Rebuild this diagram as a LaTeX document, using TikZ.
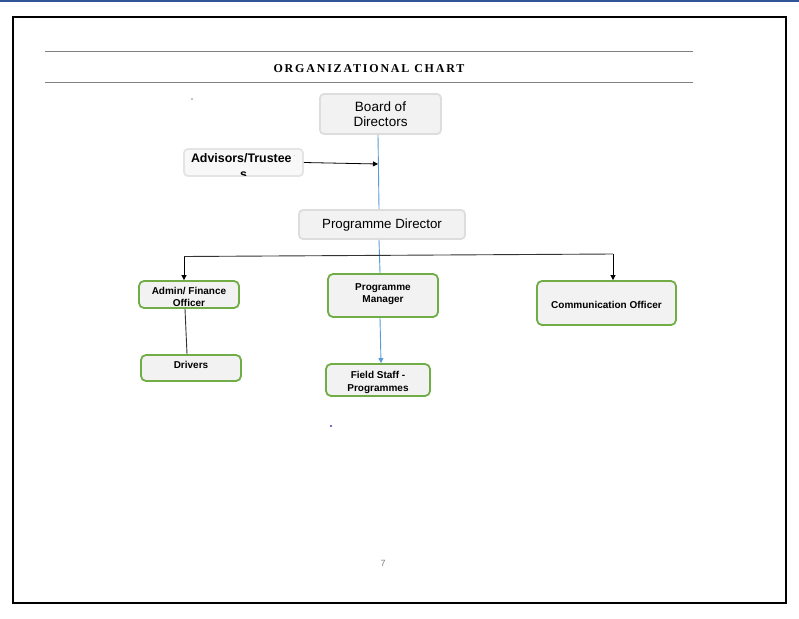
\documentclass[tikz,border=0pt]{standalone}
\usepackage{fontspec}
\setmainfont{Liberation Sans}
\newfontfamily\titlefont[LetterSpace=15]{Liberation Serif}
\usetikzlibrary{arrows.meta,calc}
\definecolor{topblue}{HTML}{2F5597}
\definecolor{boxfill}{HTML}{F2F2F2}
\definecolor{softgray}{HTML}{DDDDDD}
\definecolor{greenb}{HTML}{70AD47}
\definecolor{lineblue}{HTML}{5B9BD5}
\definecolor{dotblue}{HTML}{4040C0}
\tikzset{
  greybox/.style={draw=softgray, line width=1.8pt, fill=boxfill, rounded corners=4pt, inner sep=0pt},
  greenbox/.style={draw=greenb, line width=1.8pt, fill=boxfill, rounded corners=5pt, inner sep=0pt},
  smalltext/.style={inner sep=0pt, align=center, font=\fontsize{10}{12.5}\selectfont\bfseries},
  blackarrow/.style={draw=black, line width=0.8pt, -{Triangle[length=5pt,width=5pt]}},
  blackline/.style={draw=black!80, line width=0.9pt},
  blueline/.style={draw=lineblue, line width=0.9pt}
}
\begin{document}
\begin{tikzpicture}[x=1pt,y=-1pt]
\useasboundingbox (0,0) rectangle (799,618);
\fill[white] (0,0) rectangle (799,618);
% top band and page frame
\fill[topblue] (0,0) rectangle (799,2);
\draw[black, line width=2pt] (13,17) rectangle (786,603);
\draw[gray, line width=0.8pt] (45,51) -- (693,51);
\draw[gray, line width=0.8pt] (45,82) -- (693,82);
\node[inner sep=0pt] (title) at (369,69) {\titlefont\fontsize{12}{14}\selectfont\bfseries ORGANIZATIONAL CHART};
\fill (192,99) circle (0.7pt);
% boxes
\node[greybox, minimum width=121pt, minimum height=40pt] (board) at (380.5,114) {};
\node[inner sep=0pt, align=center, font=\fontsize{13.5}{15}\selectfont] (boardtext) at (380.5,114.5) {Board of\\Directors};
\node[greybox, draw=softgray!80, fill=boxfill!50, minimum width=119pt, minimum height=27pt] (adv) at (243.5,162.5) {};
\begin{scope}
\clip[rounded corners=4pt] (185,150) rectangle (302,175);
\node[font=\fontsize{12.4}{16}\selectfont\bfseries, anchor=north, align=center, inner sep=0pt] (advtext) at (243.5,153.5) {Advisors/Trustee\,\raisebox{5pt}{\fontsize{5}{5}\selectfont$\cdot$}\\s};
\end{scope}
\node[greybox, minimum width=166pt, minimum height=29pt] (pd) at (382,224.5) {};
\node[inner sep=0pt, font=\fontsize{13.3}{15}\selectfont] (pdtext) at (382,225.5) {Programme Director};
\node[greenbox, minimum width=100pt, minimum height=27pt] (admin) at (189,294.5) {};
\node[smalltext, font=\fontsize{10}{12}\selectfont\bfseries] (admintext) at (189,297) {Admin/ Finance\\Officer};
\node[greenbox, minimum width=100pt, minimum height=26pt] (drivers) at (191,368) {};
\node[smalltext] (drvtext) at (191,364.5) {Drivers};
\node[greenbox, minimum width=110pt, minimum height=43pt] (pm) at (383,295.5) {};
\node[smalltext, font=\fontsize{10}{12}\selectfont\bfseries] (pmtext) at (383,294.5) {Programme\\Manager};
\node[greenbox, minimum width=104pt, minimum height=32pt] (fs) at (378,380) {};
\node[smalltext, font=\fontsize{10}{13}\selectfont\bfseries] (fstext) at (378,382) {Field Staff -\\Programmes};
\node[greenbox, minimum width=139pt, minimum height=44pt] (comm) at (606.5,303) {};
\node[smalltext] (commtext) at (606.5,304.5) {Communication Officer};
% connectors
\coordinate (bj) at (378,164);
\draw[blueline] (board.south -| 378,0) -- (pd.north -| 379,0);
\draw[blackarrow] (adv.east) -- (bj);
\draw[blueline] (pd.south -| 379,0) -- (pm.north -| 380,0);
\draw[blueline, -{Triangle[length=5pt,width=5pt]}] (pm.south -| 380,0) -- (fs.north -| 381,0);
\coordinate (hl) at (184,256.5);
\coordinate (hr) at (613,254);
\draw[blackline] (hl) -- (hr);
\draw[blackarrow] (hl) -- (admin.north -| hl);
\draw[blackarrow] (hr) -- (comm.north -| hr);
\draw[blackline] (admin.south -| 185,0) -- (drivers.north -| 187,0);
% stray marks
\fill[dotblue] (331,426) circle (1.1pt);
\node[text=gray, font=\fontsize{9}{10}\selectfont] (pagenum) at (383,563) {7};
\end{tikzpicture}
\end{document}
